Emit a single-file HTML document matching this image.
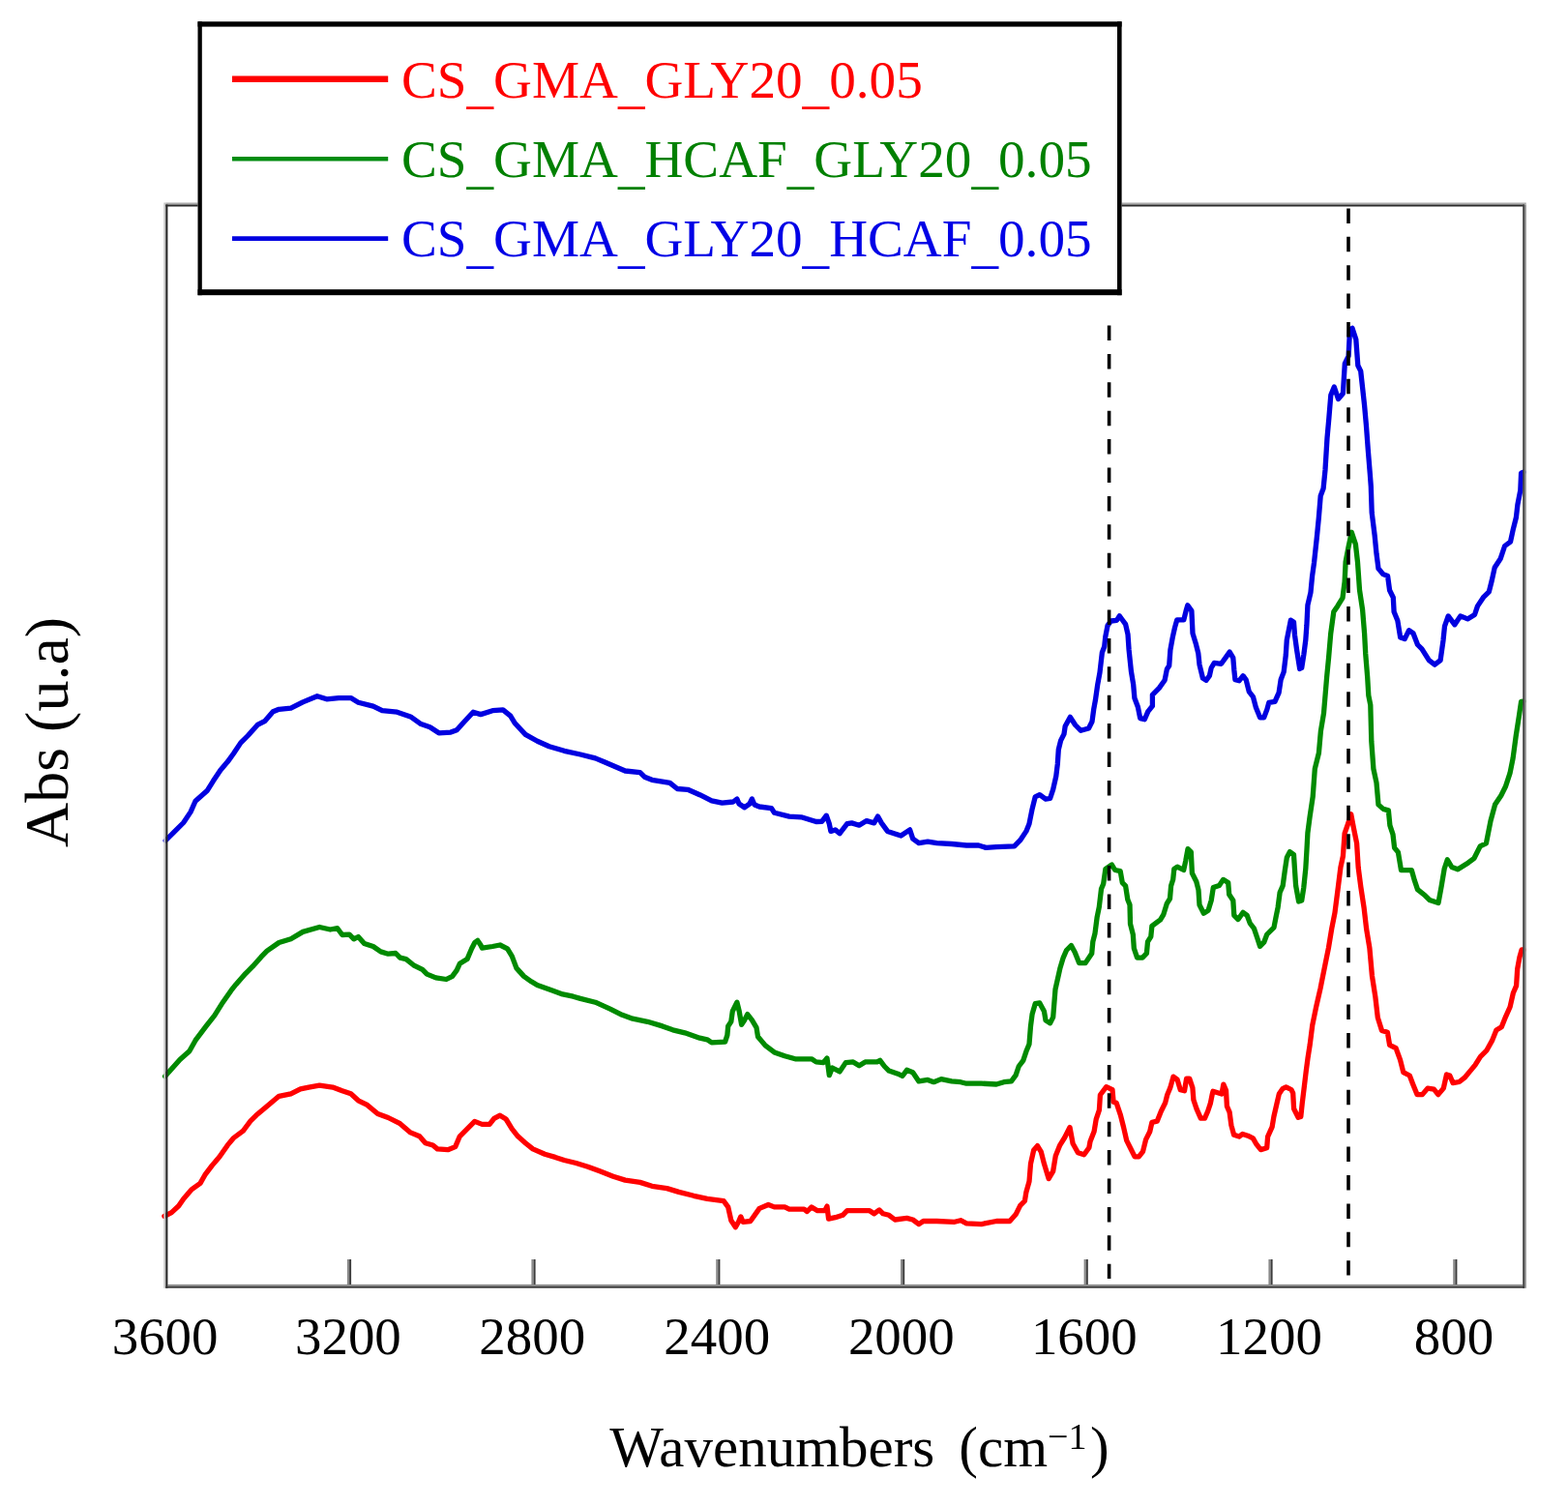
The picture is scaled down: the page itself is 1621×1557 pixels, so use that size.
<!DOCTYPE html>
<html><head><meta charset="utf-8"><title>FTIR spectra</title>
<style>
html,body{margin:0;padding:0;background:#fff;}
body{width:1621px;height:1557px;overflow:hidden;position:relative;}
svg{position:absolute;left:0;top:0;display:block;}
text{font-family:"Liberation Serif","Times New Roman",serif;}
</style></head><body>
<svg width="1621" height="1557" viewBox="0 0 1621 1557">
<rect x="0" y="0" width="1621" height="1557" fill="#fff"/>
<!-- ticks -->
<rect x="358.9" y="1302" width="2.2" height="27" fill="#8a8a8a"/><rect x="361.1" y="1302" width="2" height="27" fill="#3c3c3c"/>
<rect x="549.4" y="1302" width="2.2" height="27" fill="#8a8a8a"/><rect x="551.6" y="1302" width="2" height="27" fill="#3c3c3c"/>
<rect x="740.2" y="1302" width="2.2" height="27" fill="#8a8a8a"/><rect x="742.4" y="1302" width="2" height="27" fill="#3c3c3c"/>
<rect x="931.0" y="1302" width="2.2" height="27" fill="#8a8a8a"/><rect x="933.2" y="1302" width="2" height="27" fill="#3c3c3c"/>
<rect x="1120.6" y="1302" width="2.2" height="27" fill="#8a8a8a"/><rect x="1122.8" y="1302" width="2" height="27" fill="#3c3c3c"/>
<rect x="1311.4" y="1302" width="2.2" height="27" fill="#8a8a8a"/><rect x="1313.6" y="1302" width="2" height="27" fill="#3c3c3c"/>
<rect x="1502.2" y="1302" width="2.2" height="27" fill="#8a8a8a"/><rect x="1504.4" y="1302" width="2" height="27" fill="#3c3c3c"/>
<!-- curves -->
<g fill="none" stroke-width="5.3" stroke-linejoin="round" stroke-linecap="round">
<path stroke="#ff0000" d="M169.9,1257.3 L177.3,1253.6 L184.7,1246.8 L189.7,1239.4 L198.3,1229.6 L207,1223.4 L211.9,1214.7 L219.3,1204.9 L226.7,1196.2 L235.3,1183.9 L241.5,1176.5 L251.4,1169.1 L258.8,1159.2 L264.9,1153.1 L273.6,1145.7 L281,1139.5 L288.4,1133.3 L300.7,1130.8 L310.6,1125.9 L319.2,1124.1 L330.3,1122.2 L343.9,1124.1 L353.8,1127.8 L362.7,1130.8 L370.4,1137.8 L379.7,1142.4 L390.5,1151.6 L401.3,1155.5 L413.6,1161.7 L424.4,1170.9 L433.7,1174.8 L439.8,1181.7 L447.5,1184 L452.2,1187.9 L463,1188.7 L470.7,1185.6 L475.3,1174.8 L483,1167.1 L490.7,1159.4 L498.4,1162.4 L506.1,1162.4 L510.8,1156.3 L516.9,1153.2 L523.1,1157 L529.3,1167.1 L535.4,1174.8 L543.2,1181.7 L550.9,1187.9 L563.2,1193.3 L574,1196.4 L583.3,1199.5 L595.6,1202.5 L607.7,1206.2 L620,1210.8 L633.9,1216.2 L646.3,1220.1 L661.7,1222.4 L674,1226.3 L689.5,1228.6 L701.8,1232.4 L717.2,1236.3 L731.1,1239.4 L748.1,1241.7 L752.7,1247.9 L755.8,1261.7 L760.4,1268.7 L763.5,1263.3 L765.8,1257.9 L768.1,1263.3 L775.8,1262.5 L785.1,1249.4 L794.3,1245.5 L800.5,1247.9 L811.3,1247.9 L815.9,1250.2 L831.3,1250.2 L834.4,1252.5 L839,1247.9 L845.2,1251.7 L852.7,1251.7 L855,1247.1 L856.6,1260.2 L863.5,1258.7 L871.2,1256.3 L875.8,1251.7 L899,1251.7 L903.6,1254.8 L909,1250.9 L912.9,1254.8 L919,1256.3 L925.2,1261 L937.5,1259.4 L943.7,1261 L949.9,1265.6 L954.5,1262.5 L968.4,1262.5 L986.9,1263.3 L993.1,1261.7 L999.2,1264.8 L1014.6,1265.6 L1030.1,1262.5 L1043.9,1262.5 L1050.1,1255.6 L1054.7,1246.3 L1059.4,1241.7 L1060.9,1232.4 L1064,1221.6 L1065.5,1203.1 L1068.6,1189.3 L1072.5,1184.6 L1076.3,1190.8 L1079.4,1203.1 L1084.1,1218.6 L1088.7,1210.8 L1091.3,1194.9 L1095.5,1184.4 L1100.7,1176 L1106,1165.5 L1109.1,1182.3 L1114.4,1191.7 L1120.7,1193.8 L1125.9,1186.5 L1127,1180.2 L1131.1,1169.7 L1133.2,1157.1 L1136.4,1147.7 L1137.4,1132 L1143.7,1123.6 L1150,1126.7 L1151.1,1139.3 L1154.2,1140.3 L1158.4,1152.9 L1161.6,1165.5 L1164.7,1179.1 L1168.9,1187.5 L1173.1,1195.9 L1177.3,1195.9 L1181.5,1190.7 L1184.6,1178.1 L1188.8,1169.7 L1190.9,1160.3 L1196.2,1159.2 L1200.4,1148.7 L1204.6,1140.3 L1206.7,1132 L1209.8,1124.6 L1213,1113.1 L1217.1,1116.2 L1220.3,1126.7 L1224.5,1127.8 L1226.6,1115.2 L1229.7,1115.2 L1232.9,1124.6 L1233.9,1137.2 L1237.1,1146.6 L1241.3,1156.1 L1245.5,1156.1 L1248.6,1149 L1251.3,1140.9 L1253.1,1131.9 L1254,1128.3 L1263,1131 L1264.8,1121.1 L1267.5,1127.4 L1268.4,1143.6 L1271.1,1149.9 L1272.9,1163.4 L1275.6,1173.3 L1281,1175.1 L1284.6,1172.4 L1290,1174.2 L1295.4,1176.9 L1299,1183.2 L1303.4,1188.6 L1309.7,1186.8 L1310.6,1175.1 L1315.1,1165.2 L1316.9,1154.4 L1319.6,1142.7 L1322.3,1131 L1325.9,1125.6 L1329.5,1123.8 L1334.9,1126.5 L1336.7,1130.1 L1337.6,1146.3 L1342.1,1155.3 L1344.8,1154.4 L1346.2,1140.9 L1348.4,1122.9 L1350.2,1107.7 L1352,1094.2 L1354.2,1080 L1356.7,1060.3 L1360.8,1040.3 L1365,1022 L1370,996.9 L1373.4,980.2 L1376.7,960.2 L1380,943.5 L1383.4,916.8 L1385.9,896.8 L1388.4,885.1 L1390.1,861.7 L1394.2,850 L1396.7,841.7 L1399.2,855 L1402.6,871.7 L1404.2,896.8 L1406.8,916.8 L1410.1,938.5 L1412.6,960.2 L1415.9,980.2 L1418.4,1008.6 L1421.8,1030.3 L1424.3,1052 L1428.5,1065.4 L1434.4,1067.2 L1436.6,1080.3 L1443.1,1083.6 L1447.5,1095.6 L1450.8,1108.7 L1457.3,1112 L1460.6,1120.7 L1465,1131.6 L1470.4,1131.6 L1475.9,1125.1 L1482.4,1126.2 L1486.8,1131.6 L1492.3,1125.1 L1495.5,1110.9 L1498.8,1112 L1502.1,1119.6 L1508.6,1118.5 L1514.1,1114.2 L1519.6,1107.6 L1525,1101.1 L1530.5,1092.3 L1537,1085.8 L1542.5,1075.9 L1546.9,1065 L1552.3,1061.7 L1556.7,1050.8 L1561.1,1041 L1564.3,1026.8 L1567.6,1019.1 L1568.7,1001.7 L1570.9,989.7 L1573.1,982 L1575,982"/>
<path stroke="#008a00" d="M170.6,1112.7 L177.3,1105.3 L186,1095.5 L195.8,1086.8 L202,1075.7 L213.1,1060.9 L221.8,1049.8 L230.4,1036.2 L239,1023.9 L244,1017.7 L253.8,1006.6 L261.2,999.2 L269.9,989.4 L276,983.2 L288.4,974.5 L300.7,970.8 L313.1,963.4 L330.3,958.5 L341.4,961 L348.8,959.7 L353.8,966.5 L361.2,966.2 L365.8,970.8 L370.4,968.5 L376.6,975.4 L385.8,978.5 L393.6,983.9 L401.3,986.2 L409,985.5 L413.6,990.1 L419.8,991.6 L427.5,997.8 L436.7,1002.4 L441.4,1007.1 L450.6,1010.9 L461.4,1012.5 L467.6,1009.4 L472.2,1003.2 L475.3,996.3 L483,991.6 L487.6,980.8 L490.7,974.7 L493.8,972.4 L496.9,977 L498.4,980.1 L509.2,978.5 L516.9,977 L524.6,980.8 L529.3,988.6 L533.9,1000.9 L541.6,1009.4 L549.3,1014.8 L555.5,1018.6 L570.9,1024 L581.7,1027.9 L592.5,1030.2 L600,1032.4 L615.4,1036.2 L630.8,1043.2 L643.2,1049.3 L654,1053.2 L669.4,1056.3 L684.8,1060.9 L695.6,1064.8 L708,1067.8 L723.4,1073.2 L731.1,1074.8 L735.7,1077.9 L749.6,1077.1 L751.9,1070.1 L752.7,1060.9 L755.8,1056.3 L757.3,1045.5 L761.9,1036.2 L764.2,1045.5 L766.6,1059.4 L769.6,1054.7 L772.7,1048.6 L777.4,1054.7 L782,1062.4 L783.5,1071.7 L791.2,1080.9 L800.5,1087.9 L811.3,1091.7 L822.1,1094.8 L839,1094.8 L843.7,1097.9 L851.2,1098.6 L855,1094 L857.3,1111.7 L860.4,1104 L868.1,1107.9 L874.3,1098.6 L882,1097.9 L888.2,1101.7 L894.4,1097.9 L906.7,1097.9 L909.8,1096.3 L914.4,1102.5 L919,1107.1 L928.3,1110.2 L932.9,1112.5 L937.5,1106.3 L943.7,1108.7 L949.9,1117.9 L959.1,1116.4 L965.3,1118.7 L973,1115.6 L983.8,1117.9 L993.1,1118.7 L999.2,1120.2 L1014.6,1120.2 L1030.1,1121 L1037.8,1118.7 L1045.5,1117.9 L1050.1,1111.7 L1053.2,1102.5 L1057.8,1096.3 L1060.9,1087.1 L1064,1079.4 L1065.5,1060.8 L1067.1,1048.5 L1070.2,1037.7 L1074.8,1036.9 L1079.4,1045.4 L1081,1054.7 L1085.6,1057.8 L1088.7,1051.6 L1091,1022.9 L1093.7,1010.8 L1095.9,1001 L1099.2,990.1 L1102.5,982.5 L1107.4,977.5 L1111.2,984.6 L1115.6,995.6 L1122.1,995.6 L1128.7,985.7 L1129.8,973.7 L1132,965 L1134.1,948.6 L1136.3,937.7 L1138.5,919.1 L1140.7,913.7 L1142.9,898.4 L1149.4,894 L1152.7,899.5 L1158.2,900.6 L1160.3,912.6 L1163.6,915.9 L1165.8,930 L1168,935.5 L1168.5,955.2 L1171.3,966.1 L1172.3,980.3 L1175.6,990.1 L1181.1,990.1 L1185.4,985.7 L1186.5,973.7 L1189.8,968.3 L1190.9,957.3 L1199.6,950.8 L1202.9,945.3 L1206.2,934.4 L1209.5,929 L1210.6,915.9 L1212.7,909.3 L1213.8,898.4 L1217.1,896.2 L1223.7,899.5 L1225.8,889.7 L1228,877.6 L1231.3,880.9 L1232.4,902.8 L1236.8,911.5 L1239,920.2 L1240,935.5 L1244.4,944.2 L1249.1,941.3 L1252.2,931 L1254.3,917.6 L1260.4,915.6 L1264.5,909.4 L1269.7,912.5 L1270.7,924.8 L1274.8,931 L1275.8,946.4 L1280,950.5 L1285.1,943.3 L1289.2,946.4 L1292.3,954.6 L1296.4,959.8 L1299.5,969 L1302.6,978.3 L1306.7,974.2 L1309.8,966 L1317,958.8 L1319,948.5 L1321.1,938.2 L1323.1,922.8 L1326.2,915.6 L1328.3,900.2 L1330.3,886.8 L1333.4,880.6 L1337.5,883.7 L1338.5,899.1 L1339.6,915.6 L1342.6,932 L1345.7,931 L1347.8,917.6 L1349.8,898.1 L1350.9,879.6 L1351.9,861.1 L1354.1,844.3 L1357.2,823.7 L1359.3,794.9 L1363.4,778.5 L1365.4,755.9 L1368.5,737.4 L1371.6,700.4 L1373.6,679.8 L1375.7,655.1 L1378.8,632.5 L1382.9,626.4 L1388,618.1 L1390.1,601.7 L1391.1,581.1 L1394.2,564.7 L1397.3,550.3 L1401.4,562.6 L1403.5,581.1 L1405.5,609.9 L1408.6,630.5 L1410.6,655.1 L1411.7,675.7 L1413.7,700.4 L1414.8,718.9 L1416.8,729.1 L1417.8,766.2 L1419.9,794.9 L1423,809.3 L1425,831.9 L1430,836.4 L1435.4,837.9 L1436.9,853.4 L1440,862.6 L1441.6,876.5 L1445.4,881.1 L1448.5,899.6 L1459.3,899.6 L1462.4,910.4 L1465.5,919.6 L1473.2,925.8 L1477.8,930.4 L1487,933.5 L1490.1,916.6 L1493.2,898 L1496.3,888.8 L1500.9,896.5 L1507.1,898.8 L1517.9,891.9 L1524,887.3 L1530.2,874.9 L1536.4,871.9 L1541,848.7 L1545.6,831.8 L1551.8,822.5 L1556.4,813.3 L1561,799.4 L1564.1,784 L1567.2,760.9 L1570.3,740.8 L1572.6,725.4 L1575,725"/>
<path stroke="#0000e0" d="M171.2,869 L179.8,860.4 L189.7,850.5 L197.1,839.4 L202,828.3 L214.4,817.2 L220.5,807.3 L227.9,796.2 L235.3,787.6 L241.5,779 L248.9,767.9 L256.3,760.5 L266.2,749.4 L273.6,745.7 L282.2,735.8 L288.4,733.3 L300.7,732.1 L313.1,725.9 L327.9,719.7 L337.7,722.8 L350.1,721.6 L362.7,721.6 L370.4,726.2 L385.8,730.1 L395.1,734.7 L410.5,736.2 L424.4,740.9 L435.2,748.6 L444.5,751.7 L453.7,757.8 L466,757.1 L472.2,754.8 L479.9,746.3 L489.2,736.2 L496.9,738.6 L509.2,734.7 L520,733.9 L527.7,740.1 L532.4,747.8 L543.2,759.4 L555.5,766.3 L567.8,771.7 L583.3,776.3 L600,780 L615.4,783.9 L624.7,787.8 L646.3,797 L661.7,798.6 L666.3,803.2 L674,806.3 L692.5,809.4 L700.2,815.5 L711,816.3 L723.4,821.7 L735.7,827.9 L746.5,830.2 L758,829 L761.9,826 L764,831 L769.6,834.8 L775,831 L777.4,826 L780,832 L785,834 L797.4,835.6 L800.5,840.2 L815.9,844.1 L828.3,844.8 L843.7,849.5 L849.6,849.4 L854.3,843.2 L857.3,851.7 L858.9,859.4 L863.5,857.9 L868.1,861.7 L875.8,851.7 L880.5,850.9 L888.2,853.2 L895.9,848.6 L903.6,850.9 L907.5,844 L911.3,850.9 L917.5,859.4 L926.7,862.5 L931.4,864 L940.6,857.9 L943.7,867.1 L949.9,871.7 L959.1,870.2 L968.4,871.7 L983.8,872.5 L999.2,874 L1011.6,874 L1019.3,876.4 L1030.1,875.6 L1048.6,874.8 L1054.7,868.7 L1060.9,859.4 L1064,851.7 L1067.1,836.3 L1070.2,823.9 L1074.8,821.6 L1081,826.2 L1085.6,825.5 L1088.7,816.2 L1091.8,802.3 L1093.3,790 L1094.3,775 L1096.6,765.7 L1100,758.8 L1101.2,750.7 L1106.4,741.4 L1111.6,749.5 L1117.4,755.3 L1125.5,753 L1129,746 L1130.7,733.3 L1132.4,724.1 L1134.7,707.9 L1137,695.2 L1139.4,674.4 L1141.7,668.6 L1142.8,658.2 L1145.1,646.6 L1148.6,642 L1154.4,641.4 L1157.3,636.8 L1160.2,640.8 L1163.6,645.4 L1166,655.9 L1167.1,672 L1169.4,694 L1171.7,707.9 L1172.9,721.8 L1176.4,731 L1178.7,742.6 L1183.3,743.7 L1186.8,735.6 L1191.4,729.9 L1191.4,718.3 L1198.3,711.4 L1204.1,703.3 L1206.4,691.7 L1208.7,688.2 L1209.9,672 L1212.2,659.3 L1214.5,648.9 L1216.8,640.8 L1223.8,640.8 L1226.1,631.6 L1227.8,625.8 L1231.9,631.6 L1233,654.7 L1236.5,666.3 L1238.8,675.5 L1240,687.1 L1243.4,701 L1246.9,703.3 L1250.4,698.6 L1252.2,690.5 L1255.3,685.3 L1262.5,686.3 L1267.6,679.1 L1271.2,674 L1274.8,680.2 L1275.8,692.5 L1276.9,702.8 L1281,703.8 L1285.1,698.7 L1288.2,702.8 L1291.3,715.1 L1295.4,720.3 L1298.4,731.6 L1302.6,741.8 L1306.7,741.8 L1309.8,733.6 L1311.8,726.4 L1318,725.4 L1322.1,716.1 L1324.1,702.8 L1327.2,694.6 L1329.3,677.1 L1330.3,661.7 L1334.4,641.1 L1337.5,643.2 L1338.5,656.5 L1340.6,671.9 L1343.7,691.5 L1345.7,690.5 L1347.8,677.1 L1349.8,661.7 L1350.9,646.3 L1351.9,625.7 L1355,612.3 L1356.6,595.5 L1358.5,582 L1361.4,555.1 L1363.3,535.8 L1365.2,512.7 L1368.1,505 L1370,485.7 L1372,453 L1373.9,431.8 L1375.8,408.6 L1379.3,400 L1383.5,412.5 L1388.4,406.7 L1390.3,375.9 L1394.1,368.2 L1395.5,341.2 L1398,339.3 L1401.8,350.8 L1403.8,377.8 L1406.7,383.6 L1408.6,400.9 L1410.5,418.3 L1412.4,439.5 L1414.4,466.4 L1416.3,489.6 L1417.3,503 L1418.2,530 L1421.1,553.1 L1423,572.4 L1425,587.8 L1429.8,593.6 L1434.6,595.5 L1436.6,610.3 L1440.3,617.7 L1441.1,632.5 L1444.8,641.4 L1447.7,659.1 L1452.2,660.6 L1456.6,651.7 L1461,654.7 L1465.5,666.5 L1469.9,670.9 L1477.3,682.7 L1483.2,687.2 L1489.1,682.7 L1492,662.1 L1493.5,647.3 L1497.2,636.9 L1503.9,645.8 L1509.8,636.9 L1517.2,639.9 L1524.5,635.5 L1527.5,626.6 L1533.4,617.7 L1539.3,611.8 L1542.3,600 L1545.2,586.7 L1551.1,577.8 L1555.6,564.5 L1561.5,560.1 L1564.4,546.8 L1567.4,535 L1568.9,521.7 L1571.8,506.9 L1572.6,489.2 L1575,488"/>
</g>
<!-- plot frame -->
<rect x="169.3" y="209.5" width="2" height="1122.3" fill="#c8c8c8"/>
<rect x="171.3" y="209.5" width="1406.5" height="2" fill="#aaaaaa"/>
<rect x="1576" y="211.5" width="1.8" height="1120.3" fill="#8a8a8a"/>
<rect x="173.4" y="1327.9" width="1400.8" height="1.9" fill="#8a8a8a"/>
<rect x="171.3" y="211.5" width="2.1" height="1120.3" fill="#262626"/>
<rect x="171.3" y="211.5" width="1404.7" height="2" fill="#2a2a2a"/>
<rect x="1574.2" y="211.5" width="1.8" height="1120.3" fill="#444444"/>
<rect x="171.3" y="1329.8" width="1404.7" height="1.9" fill="#383838"/>
<!-- dashed markers -->
<g stroke="#000" stroke-width="3.6" stroke-dasharray="15.5 13.9">
<line x1="1146.6" y1="336.5" x2="1146.6" y2="1322"/>
<line x1="1394" y1="215.4" x2="1394" y2="1318.5"/>
</g>
<!-- tick labels -->
<g font-size="54.9" text-anchor="middle" fill="#000" transform="translate(-1.6,0)">
<text x="172.2" y="1400">3600</text>
<text x="361.5" y="1400">3200</text>
<text x="551.8" y="1400">2800</text>
<text x="742.8" y="1400">2400</text>
<text x="933.4" y="1400">2000</text>
<text x="1122.4" y="1400">1600</text>
<text x="1313.6" y="1400">1200</text>
<text x="1504.6" y="1400">800</text>
</g>
<!-- axis titles -->
<text x="630.3" y="1515.5" font-size="59" fill="#000" xml:space="preserve">Wavenumbers  <tspan dx="-4.5">(cm</tspan><tspan font-size="38" dy="-17.7">−1</tspan><tspan dx="3.5" dy="17.7">)</tspan></text>
<text transform="translate(70,876) rotate(-90)" font-size="64" fill="#000">Abs (u.a)</text>
<!-- legend -->
<rect x="204.5" y="22.3" width="955.1" height="282.9" fill="#fff"/>
<rect x="204.5" y="22.3" width="955.1" height="5.3" fill="#000"/>
<rect x="204.5" y="299.2" width="955.1" height="6" fill="#000"/>
<rect x="204.5" y="22.3" width="4.3" height="282.9" fill="#000"/>
<rect x="1155" y="22.3" width="4.6" height="282.9" fill="#000"/>
<line x1="240" y1="81.8" x2="401.2" y2="81.8" stroke="#ff0000" stroke-width="6.4"/>
<line x1="240" y1="164.3" x2="401.2" y2="164.3" stroke="#008c10" stroke-width="4.6"/>
<line x1="240" y1="246.6" x2="401.2" y2="246.6" stroke="#0000e0" stroke-width="4.6"/>
<g font-size="55.2">
<text x="415" y="100.5" fill="#ff0000">CS<tspan dy="5.5">_</tspan><tspan dy="-5.5">GMA</tspan><tspan dy="5.5">_</tspan><tspan dy="-5.5">GLY20</tspan><tspan dy="5.5">_</tspan><tspan dy="-5.5">0.05</tspan></text>
<text x="415" y="183" fill="#008000">CS<tspan dy="5.5">_</tspan><tspan dy="-5.5">GMA</tspan><tspan dy="5.5">_</tspan><tspan dy="-5.5">HCAF</tspan><tspan dy="5.5">_</tspan><tspan dy="-5.5">GLY20</tspan><tspan dy="5.5">_</tspan><tspan dy="-5.5">0.05</tspan></text>
<text x="415" y="265" fill="#0000e6">CS<tspan dy="5.5">_</tspan><tspan dy="-5.5">GMA</tspan><tspan dy="5.5">_</tspan><tspan dy="-5.5">GLY20</tspan><tspan dy="5.5">_</tspan><tspan dy="-5.5">HCAF</tspan><tspan dy="5.5">_</tspan><tspan dy="-5.5">0.05</tspan></text>
</g>
</svg>
</body></html>
